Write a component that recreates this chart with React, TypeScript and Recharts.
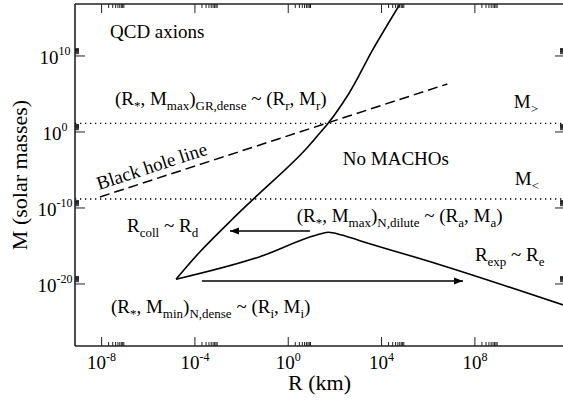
import React from 'react';
import { LineChart, Line, XAxis, YAxis, ReferenceLine, ReferenceDot } from 'recharts';

const FONT = "'Liberation Serif', 'Times New Roman', 'DejaVu Serif', serif";

// ---- axis ticks (log10 units) ----
const xMajorTicks = [-8, -4, 0, 4, 8];
const yMajorTicks = [-20, -10, 0, 10];
const minorMultipliers = [2, 3, 4, 5, 6, 7, 8, 9];

// ---- MACHO boundary curve: log10 R (km) vs log10 M (solar masses) ----
// upper (dense) branch, from top of plot down to the nose
const upperBranchLogR = [4.79, 3.63, 2.56, 1.71, 1.22, 0.72, -1.57, -2.43, -3.78, -4.81];
const upperBranchLogM = [16.84, 10.87, 4.87, 1.14, -0.62, -2.37, -9.04, -11.58, -15.75, -19.38];
// lower (dilute) branch, from the nose rightwards
const lowerBranchLogR = [-4.81, -1.22, 1.22, 1.71, 2.29, 3.07, 6.5, 11.82];
const lowerBranchLogM = [-19.38, -16.41, -13.55, -13.2, -13.55, -14.3, -17.46, -22.8];

// ---- black hole line ----
const blackHoleLogR = [-8.07, 6.82];
const blackHoleLogM = [-8.55, 6.32];

// ---- horizontal mass limits ----
const logMUpper = 1.14; // M>
const logMLower = -8.82; // M<

// ---- arrows ----
const collapseArrowLogR = [0.93, -2.5];
const collapseArrowLogM = [-13.03, -13.03];
const expansionArrowLogR = [-3.7, 7.49];
const expansionArrowLogM = [-19.6, -19.6];

const X_DOMAIN: [number, number] = [-9.14, 11.82];
const Y_DOMAIN: [number, number] = [-28.16, 16.84];

const zip = (xs: number[], ys: number[]) => xs.map((x, i) => ({ x, y: ys[i] }));
const upperBranch = zip(upperBranchLogR, upperBranchLogM);
const lowerBranch = zip(lowerBranchLogR, lowerBranchLogM);
const blackHole = zip(blackHoleLogR, blackHoleLogM);
const collapseArrow = zip(collapseArrowLogR, collapseArrowLogM);
const expansionArrow = zip(expansionArrowLogR, expansionArrowLogM);

const withMinor = (majors: number[]) =>
  majors.flatMap((d) => [d, ...minorMultipliers.map((k) => d + Math.log10(k))]);
const xTicks = withMinor(xMajorTicks);
const yTicks = withMinor(yMajorTicks);

const isMajor = (v: number) => Math.abs(v - Math.round(v)) < 1e-6;
const AX = '#222';
const TXT = { fontFamily: FONT, whiteSpace: 'pre' as const };

const BottomTick = (p: any) => {
  const v = p.payload.value;
  const major = isMajor(v);
  return (
    <g>
      <line x1={p.x} x2={p.x} y1={p.y} y2={p.y - (major ? 9 : 4)} stroke={AX} strokeWidth={1} />
      {major && (
        <text x={p.x} y={p.y + 23} textAnchor="middle" style={TXT} fontSize={19} fill="#000">
          10<tspan dy={-8} fontSize={12}>{String(Math.round(v))}</tspan>
        </text>
      )}
    </g>
  );
};
const TopTick = (p: any) => {
  const major = isMajor(p.payload.value);
  return <line x1={p.x} x2={p.x} y1={p.y} y2={p.y + (major ? 9 : 4)} stroke={AX} strokeWidth={1} />;
};
const LeftTick = (p: any) => {
  const v = p.payload.value;
  const major = isMajor(v);
  return (
    <g>
      <line x1={p.x} x2={p.x + (major ? 10 : 4)} y1={p.y} y2={p.y} stroke={AX} strokeWidth={1} />
      {major && (
        <text x={p.x - 20} y={p.y + 8.5} textAnchor="middle" style={TXT} fontSize={19} fill="#000">
          10<tspan dy={-9} fontSize={12}>{String(Math.round(v))}</tspan>
        </text>
      )}
    </g>
  );
};
const RightTick = (p: any) => {
  const major = isMajor(p.payload.value);
  return <line x1={p.x} x2={p.x - (major ? 9 : 4)} y1={p.y} y2={p.y} stroke={AX} strokeWidth={1} />;
};

type Seg = { t: string; sub?: boolean };
const n = (t: string): Seg => ({ t });
const s = (t: string): Seg => ({ t, sub: true });

const Rich = ({ x, y, segs, size = 19, subSize = 13, rotate }: any) => {
  let level = 0;
  const kids = (segs as Seg[]).map((sg, i) => {
    const target = sg.sub ? 5 : 0;
    const dy = target - level;
    level = target;
    return (
      <tspan key={i} dy={dy} fontSize={sg.sub ? subSize : size}>
        {sg.t}
      </tspan>
    );
  });
  return (
    <text
      x={x}
      y={y}
      style={TXT}
      fontSize={size}
      fill="#000"
      transform={rotate ? `rotate(${rotate} ${x} ${y})` : undefined}
    >
      {kids}
    </text>
  );
};

const textAt = (segs: Seg[], rotate?: number) => (p: any) => (
  <Rich x={p.cx} y={p.cy} segs={segs} rotate={rotate} />
);

const arrowDot = (data: { x: number }[]) => (p: any) => {
  const { cx, cy, index } = p;
  if (index !== data.length - 1) return <g key={`d${index}`} />;
  const dir = Math.sign(data[data.length - 1].x - data[0].x);
  const L = 9;
  const W = 3.5;
  const pts = `${cx},${cy} ${cx - dir * L},${cy - W} ${cx - dir * L},${cy + W}`;
  return <polygon key={`d${index}`} points={pts} fill="#000" />;
};

export default function App() {
  return (
    <div style={{ position: 'absolute', left: 0, top: 0, width: 563, height: 403, overflow: 'hidden', background: '#fff', fontFamily: FONT }}>
      <LineChart width={600} height={403} margin={{ top: 0, right: 0, bottom: 0, left: 0 }} style={{ fontFamily: FONT }}>
        <XAxis
          xAxisId={0}
          dataKey="x"
          type="number"
          domain={X_DOMAIN}
          allowDataOverflow
          ticks={xTicks}
          interval={0}
          tickSize={0}
          tickMargin={0}
          tickLine={false}
          tick={BottomTick}
          height={57}
          axisLine={{ stroke: AX, strokeWidth: 1.6 }}
          label={(p: any) => (
            <text x={p.viewBox.x + p.viewBox.width / 2} y={390} textAnchor="middle" style={TXT} fontSize={22} fill="#000">
              R (km)
            </text>
          )}
        />
        <XAxis
          xAxisId="top"
          orientation="top"
          dataKey="x"
          type="number"
          domain={X_DOMAIN}
          allowDataOverflow
          ticks={xTicks}
          interval={0}
          tickSize={0}
          tickMargin={0}
          tickLine={false}
          tick={TopTick}
          height={4}
          axisLine={{ stroke: AX, strokeWidth: 1.6 }}
        />
        <YAxis
          yAxisId={0}
          dataKey="y"
          type="number"
          domain={Y_DOMAIN}
          allowDataOverflow
          ticks={yTicks}
          interval={0}
          tickSize={0}
          tickMargin={0}
          tickLine={false}
          tick={LeftTick}
          width={75}
          axisLine={{ stroke: AX, strokeWidth: 1.6 }}
          label={(p: any) => {
            const cx = 27;
            const cy = p.viewBox.y + p.viewBox.height / 2;
            return (
              <text x={cx} y={cy} transform={`rotate(-90 ${cx} ${cy})`} textAnchor="middle" style={TXT} fontSize={22} fill="#000">
                M (solar masses)
              </text>
            );
          }}
        />
        <YAxis
          yAxisId="right"
          orientation="right"
          type="number"
          domain={Y_DOMAIN}
          allowDataOverflow
          ticks={yTicks}
          interval={0}
          tickSize={0}
          tickMargin={0}
          tickLine={false}
          tick={RightTick}
          width={36}
          axisLine={{ stroke: AX, strokeWidth: 1.6 }}
        />

        <ReferenceLine y={logMUpper} stroke="#000" strokeWidth={1.3} strokeDasharray="1.3 3.7" />
        <ReferenceLine y={logMLower} stroke="#000" strokeWidth={1.3} strokeDasharray="1.3 3.7" />

        <Line data={blackHole} dataKey="y" type="linear" stroke="#000" strokeWidth={1.5} strokeDasharray="10 5" dot={false} activeDot={false} isAnimationActive={false} />
        <Line data={upperBranch} dataKey="y" type="monotoneY" stroke="#000" strokeWidth={1.6} dot={false} activeDot={false} isAnimationActive={false} />
        <Line data={lowerBranch} dataKey="y" type="monotoneX" stroke="#000" strokeWidth={1.6} dot={false} activeDot={false} isAnimationActive={false} />
        <Line data={collapseArrow} dataKey="y" type="linear" stroke="#000" strokeWidth={1.5} dot={arrowDot(collapseArrow)} activeDot={false} isAnimationActive={false} />
        <Line data={expansionArrow} dataKey="y" type="linear" stroke="#000" strokeWidth={1.5} dot={arrowDot(expansionArrow)} activeDot={false} isAnimationActive={false} />

        <ReferenceDot x={-7.64} y={12.37} r={0} shape={textAt([n('QCD axions')])} />
        <ReferenceDot x={-7.43} y={3.55} r={0} shape={textAt([n('(R'), s('*'), n(', M'), s('max'), n(')'), s('GR,dense'), n(' ~ (R'), s('r'), n(', M'), s('r'), n(')')])} />
        <ReferenceDot x={9.67} y={3.16} r={0} shape={textAt([n('M'), s('>')])} />
        <ReferenceDot x={-8.11} y={-7.63} r={0} shape={textAt([n('Black hole line')], -18)} />
        <ReferenceDot x={2.34} y={-4.34} r={0} shape={textAt([n('No MACHOs')])} />
        <ReferenceDot x={9.71} y={-6.97} r={0} shape={textAt([n('M'), s('<')])} />
        <ReferenceDot x={0.36} y={-11.78} r={0} shape={textAt([n('(R'), s('*'), n(', M'), s('max'), n(')'), s('N,dilute'), n(' ~ (R'), s('a'), n(', M'), s('a'), n(')')])} />
        <ReferenceDot x={-6.91} y={-13.16} r={0} shape={textAt([n('R'), s('coll'), n(' ~ R'), s('d')])} />
        <ReferenceDot x={8.0} y={-17.04} r={0} shape={textAt([n('R'), s('exp'), n(' ~ R'), s('e')])} />
        <ReferenceDot x={-7.6} y={-23.82} r={0} shape={textAt([n('(R'), s('*'), n(', M'), s('min'), n(')'), s('N,dense'), n(' ~ (R'), s('i'), n(', M'), s('i'), n(')')])} />
      </LineChart>
    </div>
  );
}
